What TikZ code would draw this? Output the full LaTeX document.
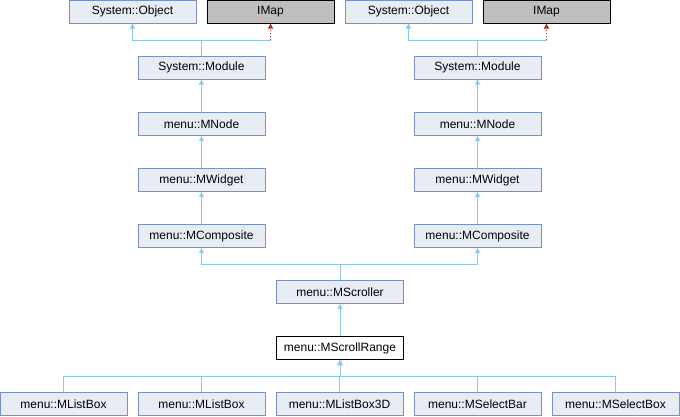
\documentclass[tikz,border=0pt]{standalone}
\usepackage{fontspec}
\setmainfont{Liberation Sans}
\usetikzlibrary{arrows.meta}
\definecolor{clsfill}{RGB}{232,236,245}
\definecolor{clsdraw}{RGB}{124,144,200}
\definecolor{inhline}{RGB}{140,200,235}
\definecolor{implline}{RGB}{163,50,50}
\definecolor{extfill}{RGB}{191,191,191}
\begin{document}
\begin{tikzpicture}[x=1pt, y=-1pt,
  every node/.style={font=\fontsize{12}{14}\selectfont, minimum width=127pt, minimum height=23pt, inner sep=0pt},
  cls/.style={draw=clsdraw, fill=clsfill, line width=1pt},
  ext/.style={draw=black, fill=extfill, line width=1pt},
  cur/.style={draw=black, fill=white, line width=1pt},
  edge/.style={draw=inhline, line width=1pt},
  inh/.style={edge, -{Triangle[width=5pt,length=5pt]}},
  impl/.style={draw=implline, line width=1pt, dotted, -{Triangle[width=5pt,length=5pt]}}]
  \useasboundingbox (0,0) rectangle (680,416);

  % Top bases
  \node[cls] (objA) at (132.5,11.5) {System::Object};
  \node[ext] (imapA) at (270.5,11.5) {IMap};
  \node[cls] (objB) at (408.5,11.5) {System::Object};
  \node[ext] (imapB) at (546.5,11.5) {IMap};

  % Two inheritance chains
  \node[cls] (modA) at (201.5,67.5) {System::Module};
  \node[cls] (nodeA) at (201.5,124) {menu::MNode};
  \node[cls] (widA) at (201.5,180) {menu::MWidget};
  \node[cls] (compA) at (201.5,236) {menu::MComposite};
  \node[cls] (modB) at (477.5,67.5) {System::Module};
  \node[cls] (nodeB) at (477.5,124) {menu::MNode};
  \node[cls] (widB) at (477.5,180) {menu::MWidget};
  \node[cls] (compB) at (477.5,236) {menu::MComposite};

  % Scroller and range
  \node[cls] (scroller) at (340,292) {menu::MScroller};
  \node[cur] (range) at (340,348) {menu::MScrollRange};

  % Derived classes
  \node[cls] (listA) at (63.5,404) {menu::MListBox};
  \node[cls] (listB) at (201.5,404) {menu::MListBox};
  \node[cls] (list3d) at (339.5,404) {menu::MListBox3D};
  \node[cls] (selbar) at (477.5,404) {menu::MSelectBar};
  \node[cls] (selbox) at (615.5,404) {menu::MSelectBox};

  % Junction points
  \coordinate (jA) at (201.5,40);
  \coordinate (jB) at (477.5,40);
  \coordinate (jS) at (340,264);
  \coordinate (jR) at (340,376);

  % Module to Object and IMap
  \draw[inh] (modA.north) -- (jA) -| (objA.south);
  \draw[edge] (jA) -- (jA -| imapA.south);
  \draw[impl] (jA -| imapA.south) -- (imapA.south);
  \draw[inh] (modB.north) -- (jB) -| (objB.south);
  \draw[edge] (jB) -- (jB -| imapB.south);
  \draw[impl] (jB -| imapB.south) -- (imapB.south);

  % Chains
  \draw[inh] (nodeA) -- (modA);
  \draw[inh] (widA) -- (nodeA);
  \draw[inh] (compA) -- (widA);
  \draw[inh] (nodeB) -- (modB);
  \draw[inh] (widB) -- (nodeB);
  \draw[inh] (compB) -- (widB);

  % Scroller to both composites
  \draw[inh] (scroller.north) -- (jS) -| (compA.south);
  \draw[inh] (scroller.north) -- (jS) -| (compB.south);
  \draw[inh] (range) -- (scroller);

  % Derived classes to range
  \foreach \kid in {listA,listB,list3d,selbar,selbox}
    \draw[inh] (\kid.north) |- (jR) -- (range.south);
\end{tikzpicture}
\end{document}
